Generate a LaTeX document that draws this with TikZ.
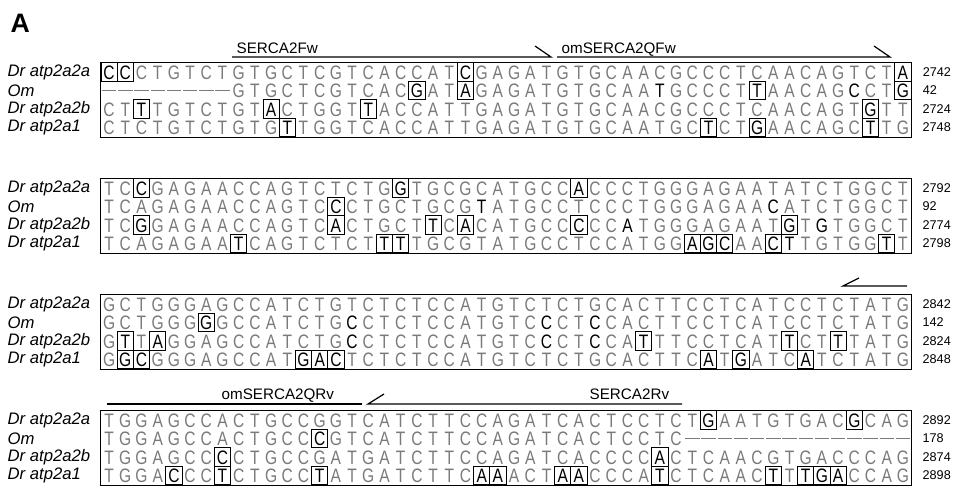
\documentclass[tikz,border=0pt]{standalone}
\usepackage{fontspec}
\setmainfont{Liberation Sans}
\usepackage{graphicx}
\usepackage{tikz}
\usetikzlibrary{positioning}
\definecolor{seqgray}{HTML}{7A7A7A}

\newcommand\seqfont{\fontsize{14.6pt}{14.6pt}\selectfont}
\newcommand\labfont{\fontsize{11.4pt}{12pt}\selectfont}
\newif\ifseqbox \newif\ifseqdark
\newcount\seqcol
% one row of the alignment: * boxes the next letter, ! darkens it
\newcommand\putrow[3]{\def\blk{#1}\def\rowno{#2}%
  \pgfmathsetmacro\rowy{72+116*(#1-1)+18.5*(#2-1)}%
  \global\seqcol=0 \global\seqboxfalse\global\seqdarkfalse
  \readseq#3\relax}
\def\seqglyph#1{\ifx#1-\rule[4.6pt]{10.8pt}{0.7pt}\else\scalebox{0.8}[1]{#1}\fi}
\def\readseq#1{%
  \ifx#1\relax\else
    \ifx#1*\global\seqboxtrue\else
    \ifx#1!\global\seqdarktrue\else
      \global\advance\seqcol by 1
      \edef\colnum{\the\seqcol}%
      \pgfmathsetmacro\cx{101+(\colnum-0.5)*16.2}%
      \ifseqbox\node[nt,boxed] (b\blk r\rowno c\colnum) at (\cx,\rowy) {\seqglyph#1};%
      \else\ifseqdark\node[nt,dark] (b\blk r\rowno c\colnum) at (\cx,\rowy) {\seqglyph#1};%
      \else\node[nt] (b\blk r\rowno c\colnum) at (\cx,\rowy) {\seqglyph#1};\fi\fi
      \global\seqboxfalse\global\seqdarkfalse
    \fi\fi
    \expandafter\readseq
  \fi}

\begin{document}
\begin{tikzpicture}[x=0.75pt, y=-0.75pt,
  nt/.style={inner sep=0pt, minimum width=12.15pt, minimum height=13.9pt, text height=10.5pt, text depth=0pt, text=seqgray, font=\seqfont},
  boxed/.style={draw, line width=0.6pt, text=black},
  dark/.style={text=black},
  lbl/.style={anchor=west, font=\fontsize{12.5pt}{13pt}\selectfont\itshape},
  num/.style={font=\fontsize{9.5pt}{10pt}\selectfont},
  primer/.style={line width=0.9pt},
  plbl/.style={anchor=base west, font=\labfont}]
\useasboundingbox (0,0) rectangle (956,490);
\node[anchor=base west, font=\fontsize{20pt}{20pt}\selectfont\bfseries] (panel) at (6,32) {A};

% block 1
\putrow{1}{1}{*C *C CTGTCTGTGCTCGTCACCAT *C GAGATGTGCAACGCCCTCAACAGTCT *A}
\putrow{1}{2}{-------- GTGCTCGTCAC *G AT *A GAGATGTGCAA !T GCCCT *T AACAG !C CT *G}
\putrow{1}{3}{CT *T TGTCTGT *A CTGGT *T ACCATTGAGATGTGCAACGCCCTCAACAGT *G TT}
\putrow{1}{4}{CTCTGTCTGTG *T TGGTCACCATTGAGATGTGCAATGC *T CT *G AACAGC *T TG}
% block 2
\putrow{2}{1}{TC *C GAGAACCAGTCTCTG *G TGCGCATGCC *A CCCTGGGAGAATATCTGGCT}
\putrow{2}{2}{TCAGAGAACCAGTC *C CTGCTGCG !T ATGCCTCCCTGGGAGAA !C ATCTGGCT}
\putrow{2}{3}{TC *G GAGAACCAGTC *A CTGCT *T C *A CATGCC *C CC !A TGGGAGAAT *G T !G TGGCT}
\putrow{2}{4}{TCAGAGAA *T CAGTCTCT *T *T TGCGTATGCCTCCATGG *A *G *C AA *C !T TGTGG *T T}
% block 3
\putrow{3}{1}{GCTGGGAGCCATCTGTCTCTCCATGTCTCTGCACTTCCTCATCCTCTATG}
\putrow{3}{2}{GCTGGG *G GCCATCTG !C CTCTCCATGTC !C CT !C CACTTCCTCATCCTCTATG}
\putrow{3}{3}{G *T T *A GGAGCCATCTG !C CTCTCCATGTC !C CT !C CA *T TTCCTCAT *T CT *T TATG}
\putrow{3}{4}{G *G *C GGGAGCCAT *G *A *C TCTCTCCATGTCTCTGCACTTC *A T *G ATC *A TCTATG}
% block 4
\putrow{4}{1}{TGGAGCCACTGCCGGTCATCTTCCAGATCACTCCTCT *G AATGTGAC *G CAG}
\putrow{4}{2}{TGGAGCCACTGCC *C GTCATCTTCCAGATCACTCCTC --------------}
\putrow{4}{3}{TGGAGCC *C CTGCCGATGATCTTCCAGATCACCCC *A CTCAACGTGACCCAG}
\putrow{4}{4}{TGGA *C CC *T CTGCC *T ATGATCTTC *A *A ACT *A *A CCCA *T CTCAAC *T T *T *G *A CCAG}

\foreach \b in {1,...,4} {
  \draw[line width=0.6pt] (b\b r1c1.north west) rectangle (b\b r4c50.south east);
  \foreach \r/\t in {1/Dr atp2a2a, 2/Om, 3/Dr atp2a2b, 4/Dr atp2a1}
    \node[lbl] (lab\b\r) at (3,{72+116*(\b-1)+18.5*(\r-1)}) {\t};
}
\foreach \b/\r/\n in {1/1/2742, 1/2/42, 1/3/2724, 1/4/2748, 2/1/2792, 2/2/92, 2/3/2774, 2/4/2798,
  3/1/2842, 3/2/142, 3/3/2824, 3/4/2848, 4/1/2892, 4/2/178, 4/3/2874, 4/4/2898}
  \node[num, right=5pt of b\b r\r c50] (num\b\r) {\n};

% primers
\coordinate (fwa) at (232,57); \coordinate (fwb) at (551,57);
\coordinate (qfa) at (557,57); \coordinate (qfb) at (890,57);
\draw[primer] (fwa) -- (fwb) -- ++(-16,-11);
\draw[primer] (qfa) -- (qfb) -- ++(-16,-11);
\node[plbl] (fwlab) at (232,53) {SERCA2Fw};
\node[plbl] (qflab) at (557,53) {omSERCA2QFw};
\coordinate (qra) at (843,286); \coordinate (qrb) at (907,286);
\draw[primer] (qrb) -- (qra) -- ++(16,-8);
\coordinate (qrc) at (107,404); \coordinate (qrd) at (362,404);
\coordinate (rva) at (368,404); \coordinate (rvb) at (682,404);
\draw[primer] (qrc) -- (qrd);
\draw[primer] (rvb) -- (rva) -- ++(16,-10);
\node[plbl] (qrlab) at (217,399) {omSERCA2QRv};
\node[plbl] (rvlab) at (585,399) {SERCA2Rv};
\end{tikzpicture}
\end{document}
